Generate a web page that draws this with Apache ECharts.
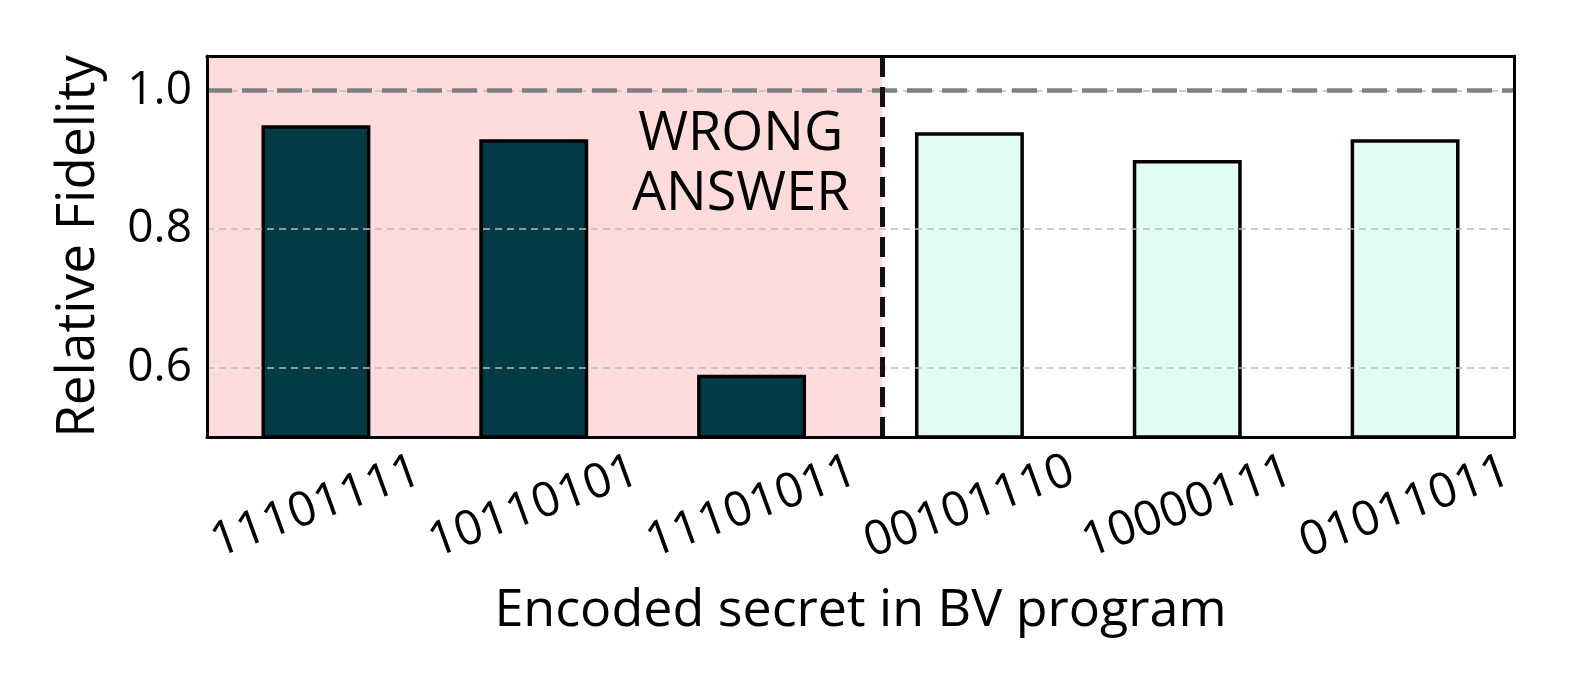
<!DOCTYPE html>
<html>
<head>
<meta charset="utf-8">
<script src="https://cdn.jsdelivr.net/npm/echarts@6/dist/echarts.min.js"></script>
<style>html,body{margin:0;padding:0;background:#fff}#c{width:1578px;height:694px}</style>
</head>
<body>
<div id="c"></div>
<script>
const categories = ['11101111', '10110101', '11101011', '00101110', '10000111', '01011011'];
const fidelity = [0.95, 0.93, 0.59, 0.94, 0.90, 0.93];
const wrongFlags = [true, true, true, false, false, false];
const yTicks = [0.6, 0.8, 1.0];
const referenceLevel = 1.0;
const wrongBoundary = 2.6;
const annotation = {x: 1.95, y: 0.893, text: 'WRONG\nANSWER'};

const FONT = 'Open Sans';
const chart = echarts.init(document.getElementById('c'), null, {renderer: 'canvas'});

chart.setOption({
  animation: false,
  backgroundColor: '#ffffff',
  grid: {left: 207, right: 64, top: 56, bottom: 257, containLabel: false},
  xAxis: [
    {
      type: 'category', data: categories, position: 'bottom', z: 10,
      axisLine: {show: true, lineStyle: {color: '#000', width: 3}},
      axisTick: {show: false},
      axisLabel: {
        rotate: 20, align: 'center', verticalAlign: 'middle', margin: 70,
        fontFamily: FONT, fontSize: 48, color: '#000', interval: 0
      },
      name: 'Encoded secret in BV program', nameLocation: 'middle', nameGap: 148,
      nameTextStyle: {fontFamily: FONT, fontSize: 52, color: '#000'}
    },
    {
      type: 'value', min: -0.5, max: 5.5, position: 'top', z: 10,
      axisLine: {show: true, onZero: false, lineStyle: {color: '#000', width: 3}},
      axisTick: {show: false}, axisLabel: {show: false}, splitLine: {show: false}
    }
  ],
  yAxis: [
    {
      type: 'value', min: 0.5, max: 1.05, position: 'left', z: 10,
      axisLine: {show: true, onZero: false, lineStyle: {color: '#000', width: 3}},
      axisTick: {show: false},
      splitLine: {show: false},
      axisLabel: {
        customValues: yTicks, margin: 15,
        fontFamily: FONT, fontSize: 46, color: '#000',
        formatter: v => v.toFixed(1)
      },
      name: 'Relative Fidelity', nameLocation: 'middle', nameGap: 102, nameRotate: 90,
      nameTextStyle: {fontFamily: FONT, fontSize: 53, color: '#000'}
    },
    {
      type: 'value', min: 0.5, max: 1.05, position: 'right', z: 10,
      axisLine: {show: true, onZero: false, lineStyle: {color: '#000', width: 3}},
      axisTick: {show: false}, axisLabel: {show: false}, splitLine: {show: false}
    }
  ],
  series: [
    {
      type: 'scatter', xAxisIndex: 1, yAxisIndex: 0, data: [], z: 1, silent: true,
      markArea: {
        silent: true,
        itemStyle: {color: '#fedcdc'},
        data: [[{xAxis: -0.5}, {xAxis: wrongBoundary}]]
      }
    },
    {
      type: 'scatter', xAxisIndex: 1, yAxisIndex: 0, data: [], z: 2, silent: true,
      markLine: {
        silent: true, symbol: 'none', label: {show: false},
        lineStyle: {color: '#bdbdbd', width: 1.5, type: [7, 5]},
        data: yTicks.map(v => ({yAxis: v}))
      }
    },
    {
      type: 'bar', xAxisIndex: 0, yAxisIndex: 0, z: 3,
      barWidth: '50%',
      data: fidelity.map((v, i) => ({
        value: v,
        itemStyle: {color: wrongFlags[i] ? '#023b44' : '#e0fcf5', borderColor: '#000', borderWidth: 3.5}
      }))
    },
    {
      type: 'scatter', xAxisIndex: 1, yAxisIndex: 0, data: [], z: 4, silent: true,
      markLine: {
        silent: true, symbol: 'none', label: {show: false},
        data: [
          {yAxis: referenceLevel, lineStyle: {color: '#808080', width: 4.5, type: [25, 10]}},
          {xAxis: wrongBoundary, lineStyle: {color: '#111', width: 5, type: [20, 10]}}
        ]
      },
      markPoint: {
        silent: true, symbol: 'circle', symbolSize: 0,
        data: [{coord: [annotation.x, annotation.y]}],
        label: {
          show: true, position: 'inside', formatter: annotation.text,
          fontFamily: FONT, fontSize: 54, lineHeight: 60, color: '#000', align: 'center'
        }
      }
    }
  ]
});
</script>
</body>
</html>
